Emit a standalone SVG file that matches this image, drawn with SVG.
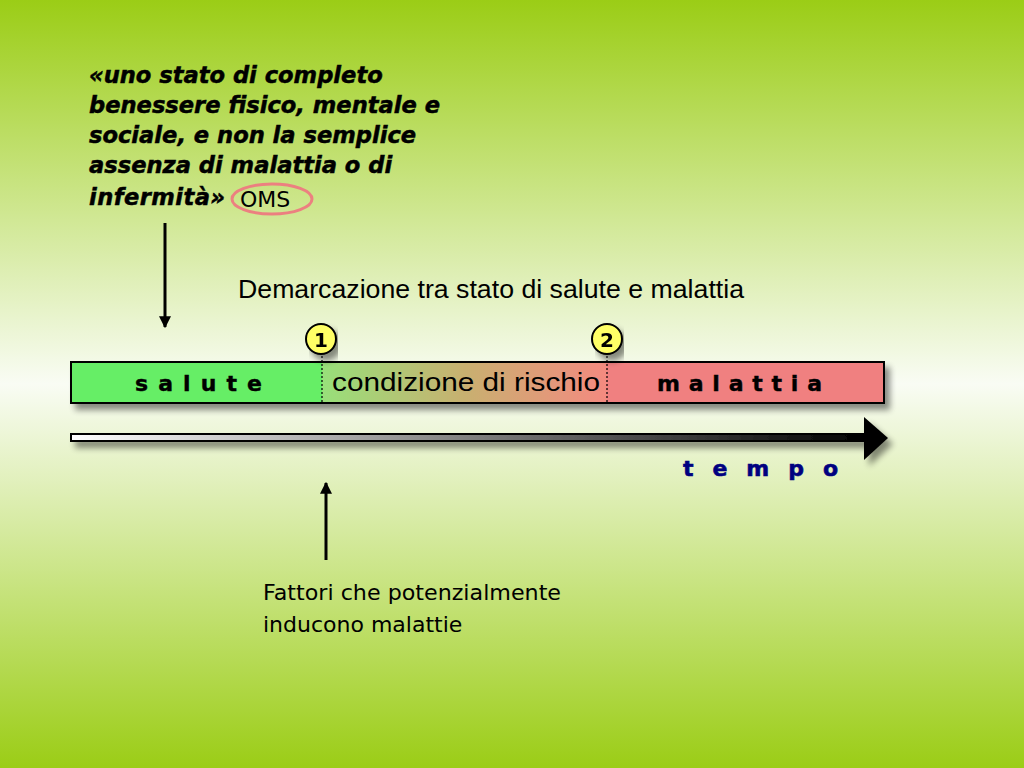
<svg xmlns="http://www.w3.org/2000/svg" width="1024" height="768" viewBox="0 0 1024 768">
<defs>
<linearGradient id="bg" x1="0" y1="0" x2="0" y2="1">
<stop offset="0" stop-color="#9BCD16"/>
<stop offset="0.5" stop-color="#F9FCF4"/>
<stop offset="1" stop-color="#9BCD16"/>
</linearGradient>
<linearGradient id="mid" x1="0" y1="0" x2="1" y2="0">
<stop offset="0" stop-color="#98E07A"/>
<stop offset="0.5" stop-color="#C8B070"/>
<stop offset="1" stop-color="#F48A80"/>
</linearGradient>
<linearGradient id="shaft" x1="0" y1="0" x2="1" y2="0">
<stop offset="0" stop-color="#FFFFFF"/>
<stop offset="1" stop-color="#000000"/>
</linearGradient>
<filter id="sh" x="-5%" y="-30%" width="110%" height="180%">
<feGaussianBlur in="SourceAlpha" stdDeviation="3"/>
<feOffset dx="5" dy="6" result="b"/>
<feComponentTransfer><feFuncA type="linear" slope="0.45"/></feComponentTransfer>
<feMerge><feMergeNode/><feMergeNode in="SourceGraphic"/></feMerge>
</filter>
<marker id="ah" viewBox="0 0 10 10" refX="9" refY="5" markerWidth="4" markerHeight="4" orient="auto">
<path d="M0,0 L10,5 L0,10 z" fill="#000"/>
</marker>
<style>
.quote{font-family:"DejaVu Sans",Verdana,sans-serif;font-weight:bold;font-style:italic;font-size:22.6px;fill:#000;stroke:#000;stroke-width:0.5}
.reg{font-family:"DejaVu Sans",Tahoma,sans-serif;font-size:22px;fill:#000}
.nar{font-family:"Liberation Sans",Arial,sans-serif;font-size:25px;fill:#000}
.sp{font-family:"DejaVu Sans",Verdana,sans-serif;font-weight:bold;font-size:22px;fill:#000;stroke:#000;stroke-width:0.4}
.num{font-family:"DejaVu Sans",Verdana,sans-serif;font-weight:bold;font-size:20px;fill:#000;text-anchor:middle}
.conn{stroke:#000;stroke-width:3;fill:none}
</style>
</defs>
<rect width="1024" height="768" fill="url(#bg)"/>

<g id="quote">
<text class="quote" x="89" y="83">«uno stato di completo</text>
<text class="quote" x="89" y="113">benessere fisico, mentale e</text>
<text class="quote" x="89" y="143">sociale, e non la semplice</text>
<text class="quote" x="89" y="173">assenza di malattia o di</text>
<text class="quote" x="89" y="205" textLength="136" lengthAdjust="spacing">infermità»</text>
</g>
<g id="oms">
<ellipse cx="272" cy="199" rx="40" ry="15" fill="none" stroke="#EC8080" stroke-width="3"/>
<text class="reg" x="240" y="207">OMS</text>
</g>

<g id="title">
<text class="nar" x="238" y="298" textLength="506" lengthAdjust="spacingAndGlyphs">Demarcazione tra stato di salute e malattia</text>
</g>

<g id="bar" filter="url(#sh)">
<rect x="71" y="362" width="251" height="41" fill="#66EE66"/>
<rect x="322" y="362" width="285" height="41" fill="url(#mid)"/>
<rect x="607" y="362" width="277" height="41" fill="#F08080"/>
<rect x="71" y="362" width="813" height="41" fill="none" stroke="#000" stroke-width="2"/>
</g>
<g id="salute"><text class="sp" x="135" y="391" textLength="127" lengthAdjust="spacing">salute</text></g>
<g id="rischio"><text class="nar" x="332" y="391" textLength="268" lengthAdjust="spacingAndGlyphs">condizione di rischio</text></g>
<g id="malattia"><text class="sp" x="657" y="391" textLength="165" lengthAdjust="spacing">malattia</text></g>

<g id="dividers">
<line x1="322" y1="352" x2="322" y2="403" stroke="#000" stroke-width="1.2" stroke-dasharray="2,2"/>
<line x1="607" y1="352" x2="607" y2="403" stroke="#000" stroke-width="1.2" stroke-dasharray="2,2"/>
</g>

<g id="m1" filter="url(#sh)">
<circle cx="321" cy="339" r="15" fill="#FFFF66" stroke="#000" stroke-width="2"/>
<text class="num" x="321" y="347">1</text>
</g>
<g id="m2" filter="url(#sh)">
<circle cx="607" cy="339" r="15" fill="#FFFF66" stroke="#000" stroke-width="2"/>
<text class="num" x="607" y="347">2</text>
</g>

<g id="timeline" filter="url(#sh)">
<rect x="71" y="434" width="796" height="7" fill="url(#shaft)" stroke="#000" stroke-width="2"/>
<path d="M864,417 L888,438 L864,460 Z" fill="#000"/>
</g>
<g id="tempo"><text x="683" y="476" font-family="DejaVu Sans, Verdana, sans-serif" font-weight="bold" font-size="22" fill="#000080" stroke="#000080" stroke-width="0.6" textLength="155" lengthAdjust="spacing">tempo</text></g>

<g id="fattori">
<text class="reg" x="263" y="600" textLength="298" lengthAdjust="spacingAndGlyphs">Fattori che potenzialmente</text>
<text class="reg" x="263" y="632">inducono malattie</text>
</g>

<g id="connectors">
<line class="conn" x1="165" y1="223" x2="165" y2="327" marker-end="url(#ah)"/>
<line class="conn" x1="326" y1="560" x2="326" y2="483" marker-end="url(#ah)"/>
</g>
</svg>
